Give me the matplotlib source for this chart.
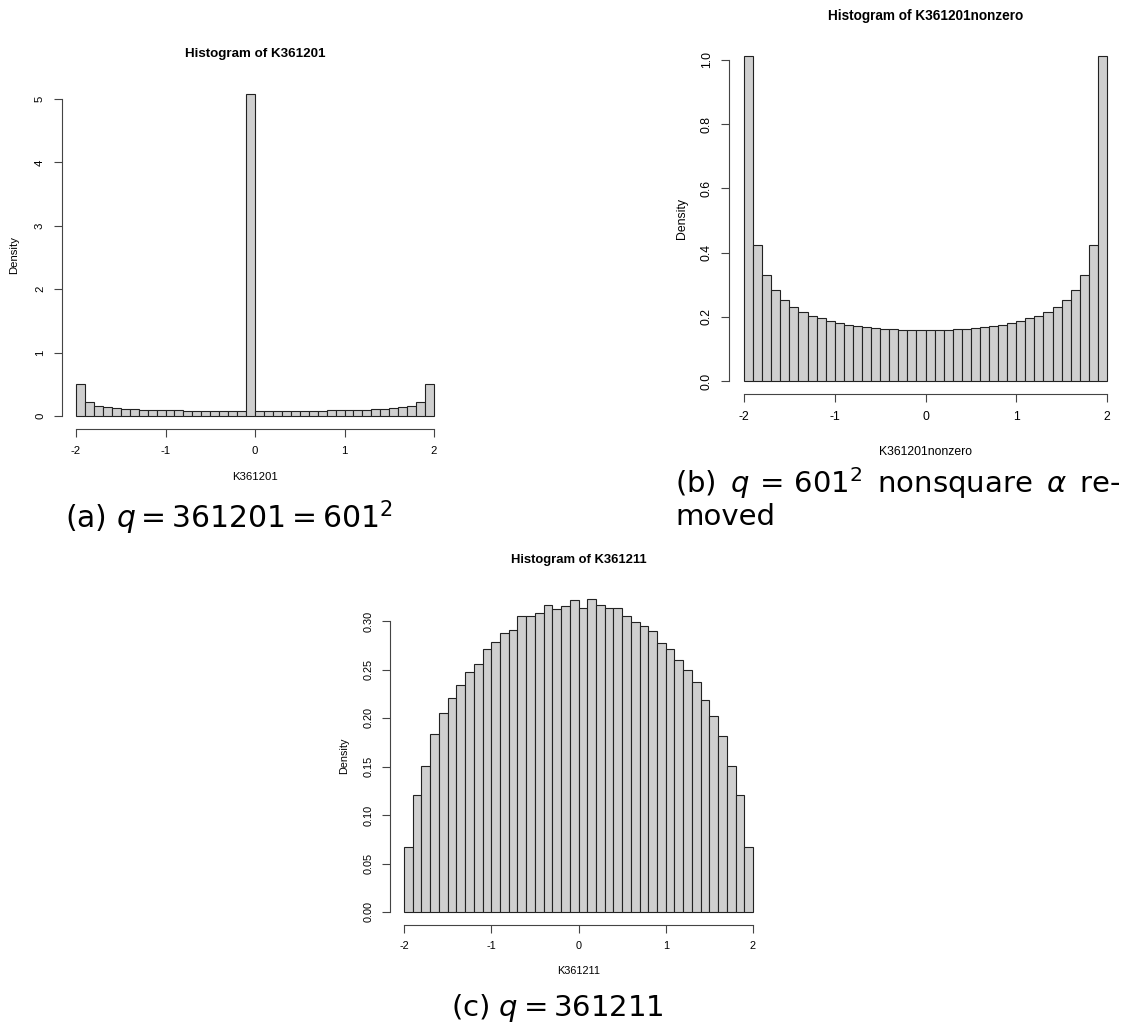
import numpy as np
import matplotlib
matplotlib.use("Agg")
import matplotlib.pyplot as plt

# bin edges -2..2, 40 bins
edges = np.linspace(-2, 2, 41)

# (a) K361201 density
dens_a = [0.505, 0.213, 0.165, 0.141, 0.126, 0.116, 0.108, 0.102, 0.098, 0.094,
          0.091, 0.088, 0.086, 0.084, 0.083, 0.082, 0.081, 0.080, 0.080, 5.08,
          0.080, 0.080, 0.080, 0.081, 0.082, 0.083, 0.084, 0.086, 0.088, 0.091,
          0.094, 0.098, 0.102, 0.108, 0.116, 0.126, 0.141, 0.165, 0.213, 0.505]

# (b) K361201nonzero density
dens_b = [1.011, 0.424, 0.331, 0.283, 0.252, 0.231, 0.215, 0.204, 0.195, 0.187,
          0.181, 0.176, 0.172, 0.167, 0.165, 0.163, 0.161, 0.160, 0.159, 0.159,
          0.159, 0.159, 0.160, 0.161, 0.163, 0.165, 0.167, 0.172, 0.176, 0.181,
          0.187, 0.195, 0.204, 0.215, 0.231, 0.252, 0.283, 0.331, 0.424, 1.011]

# (c) K361211 density
dens_c = [0.0666, 0.1208, 0.1507, 0.1840, 0.2056, 0.2207, 0.2344, 0.2471, 0.2554, 0.2715,
          0.2784, 0.2876, 0.2911, 0.3055, 0.3055, 0.3086, 0.3165, 0.3124, 0.3155, 0.3220,
          0.3134, 0.3227, 0.3165, 0.3137, 0.3130, 0.3055, 0.2993, 0.2949, 0.2897, 0.2773,
          0.2715, 0.2602, 0.2492, 0.2372, 0.2187, 0.2025, 0.1816, 0.1507, 0.1202, 0.0666]

xticks = [-2, -1, 0, 1, 2]
yticks_a = [0, 1, 2, 3, 4, 5]
ylabels_a = ["0", "1", "2", "3", "4", "5"]
yticks_b = [0.0, 0.2, 0.4, 0.6, 0.8, 1.0]
ylabels_b = ["0.0", "0.2", "0.4", "0.6", "0.8", "1.0"]
yticks_c = [0.00, 0.05, 0.10, 0.15, 0.20, 0.25, 0.30]
ylabels_c = ["0.00", "0.05", "0.10", "0.15", "0.20", "0.25", "0.30"]

W, H = 1134, 1028
fig = plt.figure(figsize=(W / 100, H / 100), dpi=100)
RFONT = "Liberation Sans"


def make_axes(xm2, xp2, y0, yref, vref, ymax):
    # R-style plot region: 4% padding around the data range
    ppx = (xp2 - xm2) / 4.0
    cx = (xm2 + xp2) / 2.0
    left = cx - 2.16 * ppx
    right = cx + 2.16 * ppx
    ppy = (y0 - yref) / vref
    bottom = y0 + 0.04 * ymax * ppy
    top = y0 - 1.04 * ymax * ppy
    ax = fig.add_axes([left / W, 1 - bottom / H, (right - left) / W, (bottom - top) / H])
    ax.set_xlim(-2.16, 2.16)
    ax.set_ylim(-0.04 * ymax, 1.04 * ymax)
    return ax, (left, right, bottom, top)


def draw_hist(ax, box, dens, yt, yl, title, xlab, title_y, xlab_y, ylab_x, fs, tfs):
    left, right, bottom, top = box
    w, h = right - left, bottom - top
    ax.bar(edges[:-1], dens, width=0.1, align="edge", color="#cfcfcf",
           edgecolor="#222222", linewidth=0.8)
    for s in ["top", "right"]:
        ax.spines[s].set_visible(False)
    ax.spines["left"].set_bounds(yt[0], yt[-1])
    ax.spines["bottom"].set_bounds(-2, 2)
    for s in ["left", "bottom"]:
        ax.spines[s].set_color("#444444")
        ax.spines[s].set_linewidth(0.8)
    ax.set_xticks(xticks)
    ax.set_xticklabels([str(t) for t in xticks], family=RFONT, fontsize=fs)
    ax.set_yticks(yt)
    ax.set_yticklabels(yl, family=RFONT, fontsize=fs, rotation=90, va="center")
    ax.tick_params(length=6, width=0.8, color="#444444", pad=6)
    ax.text(0.5, (bottom - title_y) / h, title, transform=ax.transAxes,
            ha="center", va="center", family=RFONT, fontweight="bold", fontsize=tfs)
    ax.set_xlabel(xlab, family=RFONT, fontsize=fs)
    ax.xaxis.label.set_verticalalignment("center")
    ax.xaxis.set_label_coords(0.5, -(xlab_y - bottom) / h)
    ax.set_ylabel("Density", family=RFONT, fontsize=fs)
    ax.yaxis.label.set_verticalalignment("center")
    ax.yaxis.set_label_coords((ylab_x - left) / w, 0.5)


ax_a, box_a = make_axes(76, 434, 416, 99, 5.0, 5.08)
draw_hist(ax_a, box_a, dens_a, yticks_a, ylabels_a, "Histogram of K361201", "K361201",
          54, 477, 14, 8.2, 9.6)

ax_b, box_b = make_axes(744, 1107, 381, 60, 1.0, 1.011)
draw_hist(ax_b, box_b, dens_b, yticks_b, ylabels_b, "Histogram of K361201nonzero",
          "K361201nonzero", 16, 452, 682, 8.8, 9.8)

ax_c, box_c = make_axes(404, 753, 912, 621, 0.30, 0.3227)
draw_hist(ax_c, box_c, dens_c, yticks_c, ylabels_c, "Histogram of K361211", "K361211",
          560, 971, 344, 7.8, 9.35)

# sub-figure captions (b is justified, so its gaps are a bit wider)
cap = dict(family="DejaVu Sans", va="center")
fig.text(65 / W, 1 - 518 / H, r"(a) $q = 361201 = 601^2$", ha="left", fontsize=21.5, **cap)
fig.text(675 / W, 1 - 483 / H,
         r"(b)$\,$ $q\,=\,601^2$$\,$ nonsquare$\,$ $\alpha$$\,$ re-",
         ha="left", fontsize=21, **cap)
fig.text(675 / W, 1 - 517 / H, "moved", ha="left", fontsize=21, **cap)
fig.text(557 / W, 1 - 1008 / H, r"(c) $q = 361211$", ha="center", fontsize=21, **cap)

fig.savefig("out.png", dpi=100)
